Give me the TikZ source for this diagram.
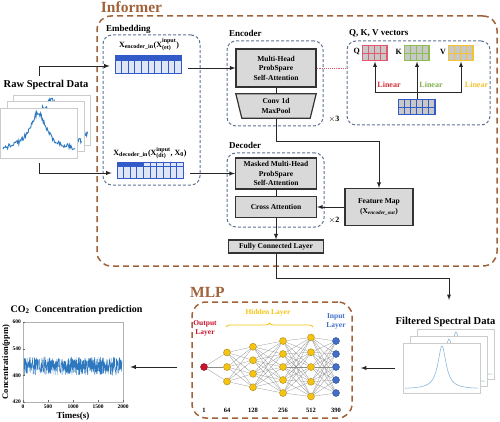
\documentclass[tikz,border=0pt]{standalone}
\usepackage{fontspec}
\usepackage{amsmath}
\setmainfont{Liberation Serif}
\usetikzlibrary{decorations.pathreplacing,calc}
\definecolor{infbrown}{RGB}{160,98,58}
\definecolor{dashblue}{RGB}{95,115,145}
\definecolor{boxgray}{RGB}{217,217,217}
\definecolor{vecdark}{RGB}{50,90,200}
\definecolor{veclight}{RGB}{222,230,246}
\definecolor{qred}{RGB}{226,90,110}
\definecolor{kgreen}{RGB}{140,190,80}
\definecolor{vyellow}{RGB}{245,195,50}
\definecolor{cellgray}{RGB}{200,200,200}
\definecolor{linred}{RGB}{210,50,60}
\definecolor{lingreen}{RGB}{130,175,80}
\definecolor{nodeyellow}{RGB}{245,195,20}
\definecolor{nodered}{RGB}{200,20,45}
\definecolor{nodeblue}{RGB}{65,110,200}
\definecolor{rawblue}{RGB}{45,120,190}
\definecolor{filtblue}{RGB}{140,185,220}
\begin{document}
\begin{tikzpicture}[x=1pt, y=-1pt, font=\bfseries,
  arr/.style={draw=black!85, line width=0.9pt, -latex},
  link/.style={draw=black!85, line width=0.9pt},
  graybox/.style={draw=black!80, fill=boxgray, line width=1.2pt, align=center, inner sep=0pt, font=\bfseries\fontsize{7.5}{9.5}\selectfont},
  dashbox/.style={draw=dashblue, dash pattern=on 3pt off 2pt, line width=1pt, rounded corners=9pt, inner sep=0pt},
  brownbox/.style={draw=infbrown, dash pattern=on 6pt off 4pt, line width=1.5pt, rounded corners=14pt, inner sep=0pt},
  sectlbl/.style={anchor=west, inner sep=0pt, font=\bfseries\fontsize{9}{10}\selectfont},
  bigtitle/.style={text=infbrown, inner sep=0pt, font=\bfseries\fontsize{15.5}{17}\selectfont},
  plotlbl/.style={inner sep=0pt, font=\bfseries\fontsize{10.5}{12}\selectfont},
  veclbl/.style={inner sep=0pt, font=\bfseries\fontsize{8}{9}\selectfont},
  specframe/.style={draw=black!20, fill=white, line width=0.5pt, minimum width=77pt, minimum height=50pt, inner sep=0pt},
  mat/.style={draw=#1, fill=cellgray, line width=1pt, minimum width=24pt, minimum height=15pt, inner sep=0pt},
  neuron/.style={circle, draw=#1!70!black, fill=#1, line width=0.4pt, minimum size=7pt, inner sep=0pt},
  nnedge/.style={draw=black!45, line width=0.25pt},
  tick/.style={inner sep=0pt, font=\bfseries\fontsize{5.5}{6}\selectfont},
  layerlbl/.style={align=center, inner sep=0pt, font=\bfseries\fontsize{7.5}{9}\selectfont}]
\useasboundingbox (0,0) rectangle (500,422);
\pgfmathsetseed{11}

% Informer frame
\node[bigtitle] (inftitle) at (131.5,7) {Informer};
\node[brownbox, minimum width=400pt, minimum height=250pt] (informer) at (297,141) {};

% raw spectra
\node[plotlbl] (rawlbl) at (46,85) {Raw Spectral Data};
\foreach \k/\d in {2/13,1/6.5,0/0} {
  \node[specframe] (raw\k) at ({39+\d},{133-\d}) {};
  \draw[rawblue, line width=0.9pt] plot[domain={3+\d}:{75+\d}, samples=110]
    (\x, {150-\d-37/(1+((\x-38-\d)/10)^2)+2.5*rand});
}
\coordinate (rawtop) at (39,76);
\coordinate (rawbot) at (39,163);

% embedding
\node[dashbox, minimum width=97pt, minimum height=150pt] (embbox) at (151.5,110) {};
\node[sectlbl] (emblbl) at (106,29) {Embedding};
\node[veclbl] (enclbl) at (149,45) {X$_{\text{encoder\_in}}$(X$^{\text{input}}_{\text{(et)}}$)};
\node[draw=vecdark, fill=veclight, line width=0.6pt, minimum width=66pt, minimum height=18pt, inner sep=0pt] (encvec) at (148,64) {};
\fill[vecdark] (encvec.north west) rectangle ($(encvec.north east)+(0,6)$);
\foreach \i in {1,...,9}
  \draw[vecdark, line width=0.5pt] ($(encvec.north west)!\i/10!(encvec.north east)$) -- ($(encvec.south west)!\i/10!(encvec.south east)$);
\node[veclbl] (declbl) at (150,153) {X$_{\text{decoder\_in}}$(X$^{\text{input}}_{\text{(dt)}}$, X$_{\text{0}}$)};
\node[draw=vecdark, fill=veclight, line width=0.6pt, minimum width=66pt, minimum height=16pt, inner sep=0pt] (decvec) at (150,170) {};
\fill[vecdark] (decvec.north west) rectangle ($(decvec.north west)!0.4!(decvec.north east)+(0,5)$);
\draw[vecdark, line width=0.5pt] ($(decvec.north west)+(0,5)$) -- ($(decvec.north east)+(0,5)$);
\foreach \i in {1,...,9}
  \draw[vecdark, line width=0.5pt] ($(decvec.north west)!\i/10!(decvec.north east)$) -- ($(decvec.south west)!\i/10!(decvec.south east)$);
\draw[arr, shorten >=5pt] (rawtop) |- ([yshift=-2pt]encvec.west);
\draw[arr, shorten >=5pt] (rawbot) |- ([yshift=-3pt]decvec.west);

% encoder
\node[dashbox, minimum width=96pt, minimum height=85pt] (encbox) at (275,83.5) {};
\node[sectlbl] (encttl) at (229,33) {Encoder};
\node[graybox, minimum width=80pt, minimum height=38pt] (mha) at (276,68) {Multi-Head\\ProbSpare\\Self-Attention};
\node[align=center, inner sep=0pt, minimum width=68pt, minimum height=24pt, font=\bfseries\fontsize{7.5}{9.5}\selectfont] (conv) at (276,106) {};
\draw[graybox] ($(conv.north west)+(-6,0)$) -- ($(conv.north east)+(6,0)$) -- (conv.south east) -- (conv.south west) -- cycle;
\node[align=center, inner sep=0pt, font=\bfseries\fontsize{7.5}{9.5}\selectfont] (convtxt) at (conv) {Conv 1d\\MaxPool};
\draw[link] (mha) -- (conv);
\node[veclbl] (times3) at (334,119) {$\times$3};
\draw[arr, shorten <=7pt] (encvec.east |- mha.west) -- (mha.west);

% Q, K, V vectors
\node[dashbox, minimum width=143pt, minimum height=84pt] (qkvbox) at (418.5,83) {};
\node[sectlbl] (qkvlbl) at (349,33) {Q, K, V vectors};
\draw[qred, densely dotted, line width=0.9pt] (mha.east) -- (mha.east -| qkvbox.west);
\node[mat=qred] (Q) at (375,53.5) {};
\node[mat=kgreen] (K) at (417,53.5) {};
\node[mat=vyellow] (V) at (461,53.5) {};
\node[mat=vecdark, minimum width=36pt] (B) at (417,107.5) {};
\foreach \m/\c/\nc in {Q/qred/4, K/kgreen/4, V/vyellow/4, B/vecdark/6}
  \foreach \i in {1,...,\nc}
    \foreach \j in {1,2}
      \filldraw[fill=cellgray, draw=\c, line width=0.7pt] ($(\m.north west)+({(\i-1)*6},{(\j-1)*7.5})$) rectangle +(6,7.5);
\node[veclbl, anchor=east] (qlbl) at (360,52) {Q};
\node[veclbl, anchor=east] (klbl) at (402,52) {K};
\node[veclbl, anchor=east] (vlbl) at (446,52) {V};
\coordinate (lin) at (417,92);
\draw[arr] (B) -- (K);
\draw[arr] (lin) -| (Q);
\draw[arr] (lin) -| (V);
\node[veclbl, text=linred] (linq) at (389,85) {Linear};
\node[veclbl, text=lingreen] (lingr) at (431,85) {Linear};
\node[veclbl, text=vyellow] (linv) at (476.5,85) {Linear};

% decoder
\node[dashbox, minimum width=97pt, minimum height=74pt] (decbox) at (275.5,190) {};
\node[sectlbl] (decttl) at (229,145) {Decoder};
\node[graybox, minimum width=81pt, minimum height=31pt] (mmha) at (276,173.5) {Masked Multi-Head\\ProbSpare\\Self-Attention};
\node[graybox, minimum width=81pt, minimum height=21pt] (cross) at (276,207) {Cross Attention};
\draw[link] (mmha) -- (cross);
\node[veclbl] (times2) at (334,220) {$\times$2};
\draw[arr, shorten <=7pt] (decvec.east |- mmha.west) -- (mmha.west);
\node[graybox, minimum width=68pt, minimum height=37pt] (fmap) at (379,207) {Feature Map\\(X\textsubscript{\textit{encoder\_out}})};
\coordinate (fmtop) at (379,141);
\draw[arr] (conv) |- (fmtop) -- (fmap);
\draw[arr] (fmap) -- (cross);
\node[graybox, minimum width=95pt, minimum height=13pt] (fc) at (276,246.5) {Fully Connected Layer};
\draw[arr] (cross) -- (fc);

% filtered spectra
\node[plotlbl] (filtlbl) at (445.5,322) {Filtered Spectral Data};
\foreach \k/\d in {2/14,1/7,0/0} {
  \node[specframe] (filt\k) at ({441.5+\d},{368-\d}) {};
  \draw[filtblue, line width=0.6pt] plot[domain={405+\d}:{478+\d}, samples=120, smooth]
    (\x, {389-\d-43/(1+((\x-442-\d)/5)^2)});
}
\coordinate (fcturn) at (449,278);
\coordinate (filtin) at (449,300);
\draw[arr] (fc) |- (fcturn) -- (filtin);

% MLP
\node[bigtitle, anchor=west] (mlptitle) at (190,292) {MLP};
\node[brownbox, minimum width=160pt, minimum height=116pt] (mlpbox) at (272,360) {};
\foreach \l/\x/\n/\s/\c in {0/204/1/0/nodered, 1/227/3/14.5/nodeyellow, 2/253/4/13.5/nodeyellow, 3/283/5/13/nodeyellow, 4/311/5/14.75/nodeyellow, 5/336/5/13/nodeblue}
  \foreach \i in {1,...,\n}
    \node[neuron=\c] (n\l-\i) at (\x, {367+(\i-(\n+1)/2)*\s}) {};
\foreach \a/\na/\b/\nb in {0/1/1/3, 1/3/2/4, 2/4/3/5, 3/5/4/5, 4/5/5/5}
  \foreach \i in {1,...,\na}
    \foreach \j in {1,...,\nb}
      \draw[nnedge] (n\a-\i) -- (n\b-\j);
\foreach \l/\x/\t in {0/204/1, 1/227/64, 2/253/128, 3/283/256, 4/311/512, 5/336/390}
  \node[tick, font=\bfseries\fontsize{6.5}{7}\selectfont] (num\l) at (\x,410) {\t};
\node[layerlbl, text=nodered] (outlbl) at (205,328) {Output\\Layer};
\node[layerlbl, text=nodeyellow] (hidlbl) at (268,313) {Hidden Layer};
\node[layerlbl, text=nodeblue] (inlbl) at (336,321.5) {Input\\Layer};
\draw[nodeyellow, line width=0.8pt, decorate, decoration={brace, amplitude=4pt}] (226,327) -- (313,327);
\draw[arr, shorten <=8pt, shorten >=8pt] (filt0.west) -- (mlpbox.east |- filt0.west);

% CO2 prediction plot
\node[plotlbl, font=\bfseries\fontsize{10}{12}\selectfont] (co2lbl) at (76.5,310) {CO$_{\text{2}}$\ \ Concentration prediction};
\node[draw=black!30, line width=0.6pt, minimum width=100pt, minimum height=80pt, inner sep=0pt] (co2plot) at (73,362) {};
\draw[rawblue, line width=0.35pt] plot[domain=24:122, samples=600] (\x, {366+9*rand});
\foreach \v/\y in {600/322, 540/348.7, 480/375.3, 420/402} {
  \node[tick, anchor=east] (yt\v) at (21,\y) {\v};
  \draw[black!60, line width=0.4pt] (23,\y) -- (25,\y);
}
\foreach \v/\x in {0/23, 500/48, 1000/73, 1500/98, 2000/123} {
  \node[tick, anchor=north] (xt\v) at (\x,404.5) {\v};
  \draw[black!60, line width=0.4pt] (\x,402) -- (\x,400);
}
\node[inner sep=0pt, font=\bfseries\fontsize{9}{10}\selectfont] (xlab) at (73,416) {Times(s)};
\node[inner sep=0pt, rotate=90, font=\bfseries\fontsize{8.5}{9}\selectfont] (ylab) at (6,362) {Concentration(ppm)};
\draw[arr, shorten <=14pt, shorten >=7pt] (mlpbox.west |- n0-1) -- (co2plot.east |- n0-1);
\end{tikzpicture}
\end{document}
